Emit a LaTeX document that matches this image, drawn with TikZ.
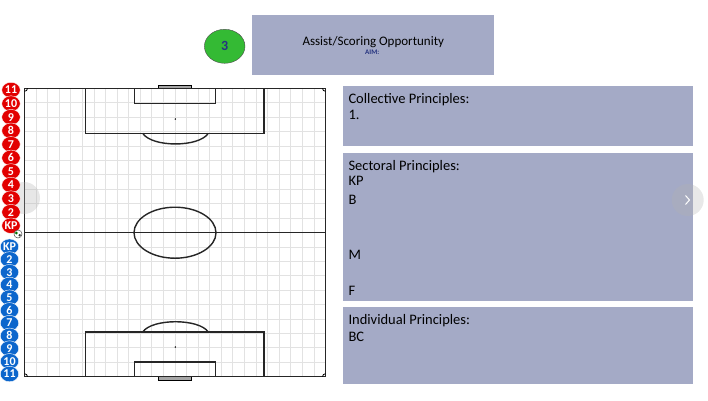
\documentclass[tikz,border=0pt]{standalone}
\usepackage{fontspec}
\setmainfont{Carlito}
\usetikzlibrary{shapes.geometric}
\definecolor{panelgrey}{RGB}{164,170,198}
\definecolor{teamred}{RGB}{226,0,0}
\definecolor{teamblue}{RGB}{12,102,204}
\definecolor{stepgreen}{RGB}{52,186,52}
\definecolor{aimblue}{RGB}{38,52,128}
\definecolor{gridgrey}{RGB}{226,226,226}

\begin{document}
\begin{tikzpicture}[x=1pt, y=-1pt,
    panel/.style={fill=panelgrey, draw=none},
    paneltext/.style={anchor=base west, inner sep=0pt, font=\fontsize{14.5}{16}\selectfont},
    pitchline/.style={draw=black!85, line width=1.4pt},
    redkit/.style={ellipse, fill=teamred, draw=white, line width=0.4pt, minimum width=18.5pt, minimum height=15.5pt, inner sep=0pt, text=white, font=\fontsize{12}{12}\selectfont\bfseries},
    bluekit/.style={redkit, fill=teamblue},
    navdot/.style={circle, fill=black!30, opacity=0.3, minimum size=32pt, inner sep=0pt}]
    \useasboundingbox (0,0) rectangle (708,400);
        % heading
        \fill[panel] (252.3,15) rectangle (494.3,75);
        \node[ellipse, fill=stepgreen, draw=black!70, minimum width=40.6pt, minimum height=34pt, inner sep=0pt, text=aimblue, font=\fontsize{14}{14}\selectfont\bfseries] (num) at (224.7,46.3) {3};
        \node[anchor=base, inner sep=0pt, font=\fontsize{13}{15}\selectfont] (title) at (373.3,45.7) {Assist/Scoring Opportunity};
        \node[anchor=base, inner sep=0pt, text=aimblue, font=\fontsize{7}{8}\selectfont\bfseries] (aim) at (372.3,54.5) {AIM:};
        % principle panels
        \fill[panel] (343.3,85.7) rectangle (692.7,145.7);
        \fill[panel] (343.3,152.7) rectangle (692.7,300.7);
        \fill[panel] (343.3,307.3) rectangle (692.7,384.3);
        \node[paneltext] (colhead) at (348.3,103) {Collective Principles:};
        \node[paneltext] (col1) at (348.3,119) {1.};
        \node[paneltext] (sechead) at (348.3,170) {Sectoral Principles:};
        \node[paneltext] (seckp) at (348.3,185) {KP};
        \node[paneltext] (secb) at (348.3,204) {B};
        \node[paneltext] (secm) at (348.3,259) {M};
        \node[paneltext] (secf) at (348.3,295.7) {F};
        \node[paneltext] (indhead) at (348.3,324) {Individual Principles:};
        \node[paneltext] (indbc) at (348.3,341.7) {BC};
        % pitch
        \fill[white] (24.5,88.3) rectangle (325.5,376.7);
        \foreach \i in {1,...,25}
            \draw[gridgrey, line width=0.8pt] ({24.5+\i*301/26},88.3) -- ++(0,288.4);
        \foreach \j in {1,...,19}
            \draw[gridgrey, line width=0.8pt] (24.5,{88.3+\j*288.4/20}) -- ++(301,0);
        \fill[black!35] (158.3,85.7) rectangle (191.7,88.3);
        \fill[black!35] (158.3,376.7) rectangle (191.7,380.3);
        \draw[black, line width=0.5pt] (158.3,85.7) rectangle (191.7,88.3);
        \draw[black, line width=0.5pt] (158.3,376.7) rectangle (191.7,380.3);
        \draw[pitchline] (24.5,88.3) rectangle (325.5,376.7);
        \draw[pitchline] (24.5,232.7) -- (325.5,232.7);
        \draw[pitchline] (175,232.7) circle [x radius=41pt, y radius=25.5pt];
        \draw[pitchline] (85.7,88.3) rectangle (264,133.3);
        \draw[pitchline] (134.3,88.3) rectangle (215.7,103.7);
        \draw[pitchline] (142.7,133.3) .. controls (152,147.5) and (199,147.5) .. (208.3,133.3);
        \draw[pitchline] (85.7,332) rectangle (264,376.7);
        \draw[pitchline] (134.3,362) rectangle (215.7,376.7);
        \draw[pitchline] (142.7,332) .. controls (152,318.3) and (199,318.3) .. (208.3,332);
        \fill (175.3,119) circle (0.8pt);
        \fill (175.3,347) circle (0.8pt);
        \draw[line width=0.8pt] (24.5,91.3) arc (270:360:3pt);
        \draw[line width=0.8pt] (322.5,88.3) arc (180:270:3pt);
        \draw[line width=0.8pt] (24.5,373.7) arc (90:0:3pt);
        \draw[line width=0.8pt] (322.5,376.7) arc (180:90:3pt);
        \node[navdot] (prev) at (24,198) {};
        % players
        \foreach \lab [count=\i] in {11,10,9,8,7,6,5,4,3,2,KP}
            \node[redkit] (r\i) at (11,{90+(\i-1)*13.57}) {\lab};
        \foreach \lab [count=\i] in {KP,2,3,4,5,6,7,8,9,10,11}
            \node[bluekit] (b\i) at (9.5,{246.7+(\i-1)*12.73}) {\lab};
        % ball
        \node[circle, fill=white, draw=black!70, line width=0.5pt, minimum size=8pt, inner sep=0pt] (ball) at (18,234) {};
        \fill[green!45!black] (ball.center) ++(-1.6,-1) circle (1.5pt);
        \fill[black!80] (ball.center) ++(1.7,1.2) circle (1.3pt);
        % next
        \node[navdot] (next) at (687.7,200) {};
        \draw[white, line width=1pt] (685.5,195.5) -- (689.5,200) -- (685.5,204.5);
    \end{tikzpicture}
\end{document}
